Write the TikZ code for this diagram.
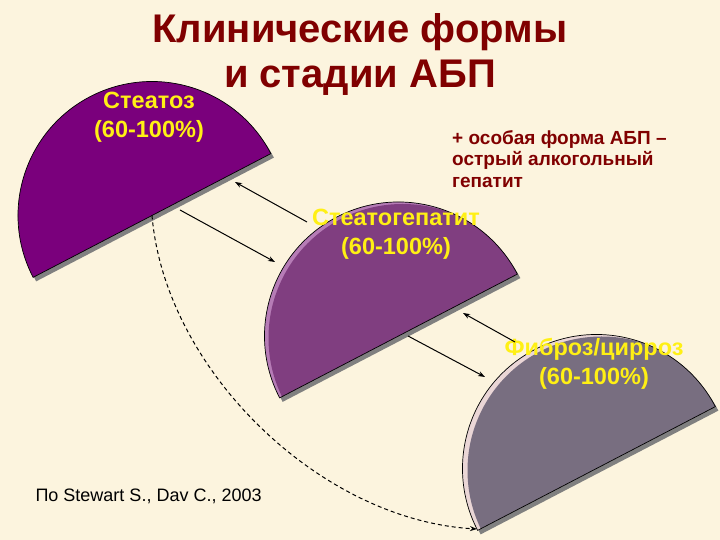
\documentclass[tikz,border=0pt]{standalone}
\usepackage{fontspec}
\setmainfont{Liberation Sans}
\usetikzlibrary{arrows.meta}
\definecolor{bg}{RGB}{252,244,222}
\definecolor{titlered}{RGB}{128,0,0}
\definecolor{shadowgray}{RGB}{128,128,128}
\definecolor{disca}{RGB}{122,0,124}
\definecolor{discb}{RGB}{128,62,128}
\definecolor{rimb}{RGB}{182,124,182}
\definecolor{discc}{RGB}{120,110,128}
\definecolor{rimc}{RGB}{234,214,214}
\definecolor{lblyellow}{RGB}{255,240,20}
\newcommand\hdisc[1]{(#1) ++(27.5:134) arc[start angle=27.5,end angle=207.5,radius=134] -- cycle}
\tikzset{
  outline/.style={draw=black,line width=0.7pt},
  lbl/.style={text=lblyellow,font=\bfseries\fontsize{23.5}{29}\selectfont,align=center},
  ttl/.style={anchor=base,text=titlered,font=\bfseries\fontsize{40}{46}\selectfont},
  conn/.style={draw=black,line width=1pt,-{Stealth[length=7pt,width=5pt]}},
  dconn/.style={conn,dash pattern=on 4pt off 3pt}
}
\begin{document}
\begin{tikzpicture}[x=1pt,y=1pt]
\fill[bg] (0,0) rectangle (720,540);
\useasboundingbox (0,0) rectangle (720,540);
\coordinate (c1) at (152,324.5);
\coordinate (c2) at (398.5,204);
\coordinate (c3) at (596.5,71.5);
% shadows
\fill[shadowgray] ([shift={(3,-4)}]c1) ++(27.5:134) arc[start angle=27.5,end angle=207.5,radius=134] -- cycle;
\fill[shadowgray] ([shift={(3,-4)}]c2) ++(27.5:134) arc[start angle=27.5,end angle=207.5,radius=134] -- cycle;
\fill[shadowgray] ([shift={(3,-4)}]c3) ++(27.5:134) arc[start angle=27.5,end angle=207.5,radius=134] -- cycle;
% disc 1
\fill[disca] \hdisc{c1};
\draw[outline] \hdisc{c1};
% disc 2
\begin{scope}
\clip \hdisc{c2};
\fill[rimb] (c2) circle (140);
\fill[discb] ([shift={(4,-2)}]c2) circle (134);
\end{scope}
\draw[outline] \hdisc{c2};
% disc 3
\begin{scope}
\clip \hdisc{c3};
\fill[rimc] (c3) circle (140);
\fill[discc] ([shift={(5,-2)}]c3) circle (134);
\end{scope}
\draw[outline] \hdisc{c3};
% title
\node[ttl] (t1) at (360,497) {Клинические формы};
\node[ttl] (t2) at (360,452) {и стадии АБП};
% labels
\node[lbl] (l1) at (149,423) {Стеатоз\\(60-100\%)};
\node[lbl] (l2) at (396,306) {Стеатогепатит\\(60-100\%)};
\node[lbl] (l3) at (594,176) {Фиброз/цирроз\\(60-100\%)};
\node[anchor=north west,align=left,inner sep=0pt,text=titlered,font=\bfseries\fontsize{19}{21.5}\selectfont] (note) at (452,410) {+ особая форма АБП –\\острый алкогольный\\гепатит};
\node[anchor=base west,font=\fontsize{18}{21}\selectfont] (src) at (32,38) {По Stewart S., Dav C., 2003};
% arrows
\coordinate (a1s) at (307,318); \coordinate (a1e) at (235,358);
\coordinate (a2s) at (180,330); \coordinate (a2e) at (275,278);
\coordinate (a3s) at (515,198); \coordinate (a3e) at (463,227);
\coordinate (a4s) at (408,204); \coordinate (a4e) at (485,163);
\coordinate (a5e) at (477,11);
\draw[conn] (a1s) -- (a1e);
\draw[conn] (a2s) -- (a2e);
\draw[conn] (a3s) -- (a3e);
\draw[conn] (a4s) -- (a4e);
\draw[dconn] (c1) .. controls (165,170) and (320,20) .. (a5e);
\end{tikzpicture}
\end{document}
